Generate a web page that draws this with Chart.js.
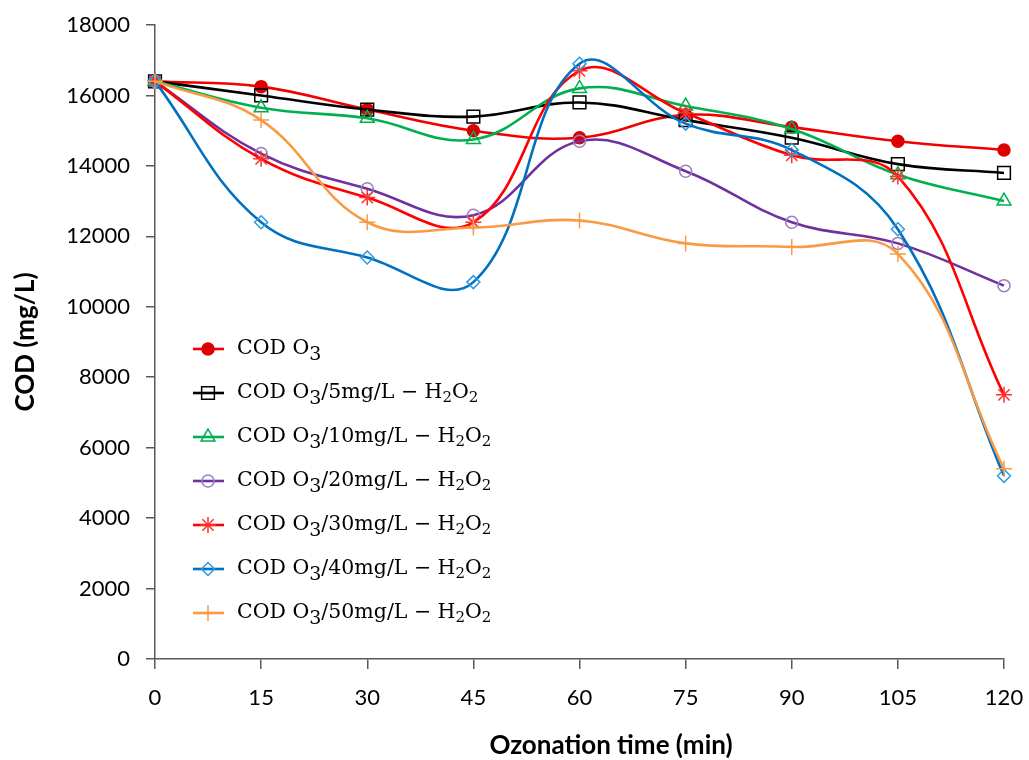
<!DOCTYPE html>
<html>
<head>
<meta charset="utf-8">
<script src="https://cdn.jsdelivr.net/npm/chart.js@4/dist/chart.umd.min.js"></script>
<style>
    html, body { margin: 0; padding: 0; background: #fff; }
    #wrap { width: 1029px; height: 760px; }
</style>
</head>
<body>
<div id="wrap"><canvas id="codChart" width="1029" height="760"></canvas></div>
<script>
// Ozonation time (min)
const times = [0, 15, 30, 45, 60, 75, 90, 105, 120];

// COD (mg/L) for each treatment
const codO3    = [16400, 16250, 15600, 15000, 14800, 15450, 15100, 14700, 14450];
const codH2O2_5  = [16400, 16000, 15600, 15400, 15800, 15300, 14800, 14050, 13800];
const codH2O2_10 = [16400, 15650, 15350, 14750, 16200, 15700, 15050, 13750, 13000];
const codH2O2_20 = [16400, 14350, 13350, 12600, 14700, 13850, 12400, 11800, 10600];
const codH2O2_30 = [16400, 14200, 13100, 12400, 16700, 15500, 14300, 13700, 7500];
const codH2O2_40 = [16400, 12400, 11400, 10700, 16900, 15200, 14450, 12200, 5200];
const codH2O2_50 = [16400, 15300, 12400, 12250, 12450, 11800, 11700, 11500, 5400];

const seriesLabels = [
    'COD O₃',
    'COD O₃/5mg/L − H₂O₂',
    'COD O₃/10mg/L − H₂O₂',
    'COD O₃/20mg/L − H₂O₂',
    'COD O₃/30mg/L − H₂O₂',
    'COD O₃/40mg/L − H₂O₂',
    'COD O₃/50mg/L − H₂O₂'
];
const seriesValues = [codO3, codH2O2_5, codH2O2_10, codH2O2_20, codH2O2_30, codH2O2_40, codH2O2_50];

const xTitle = 'Ozonation time (min)';
const yTitle = 'COD (mg/L)';

// line colour, marker colour, marker shape, marker radius, filled?
const styles = [
    { line: '#f20000', mark: '#dc0000', shape: 'circle',   r: 6,   fill: true },
    { line: '#000000', mark: '#000000', shape: 'rect',     r: 9,   fill: false },
    { line: '#00b050', mark: '#00b050', shape: 'triangle', r: 8,   fill: false },
    { line: '#7030a0', mark: '#9a80bd', shape: 'circle',   r: 6,   fill: false },
    { line: '#ff0000', mark: '#ff3030', shape: 'star',     r: 8,   fill: false },
    { line: '#0070c0', mark: '#2b9be0', shape: 'rectRot',  r: 6.5, fill: false },
    { line: '#f99a45', mark: '#f99a45', shape: 'cross',    r: 8,   fill: false }
];

const datasets = seriesValues.map((vals, i) => ({
    label: seriesLabels[i],
    data: vals.map((v, k) => ({ x: times[k], y: v })),
    borderColor: styles[i].line,
    borderWidth: 2.6,
    tension: 0.4,
    pointStyle: styles[i].shape,
    pointRadius: styles[i].r,
    pointBorderColor: styles[i].mark,
    pointBackgroundColor: styles[i].fill ? styles[i].mark : 'rgba(0,0,0,0)',
    pointBorderWidth: 1.5,
    clip: false,
    order: -i   // later series drawn on top, like the original
}));

// Legend drawn inside the plot, with subscripts set lower and smaller
const subMap = { '₂': '2', '₃': '3' };
const insideLegend = {
    id: 'insideLegend',
    afterDraw(chart) {
        const ctx = chart.ctx;
        const baseSize = 20.5;
        ctx.save();
        chart.data.datasets.forEach((ds, i) => {
            const y = 349 + i * 44;
            ctx.strokeStyle = ds.borderColor;
            ctx.lineWidth = 2.6;
            ctx.beginPath();
            ctx.moveTo(193, y);
            ctx.lineTo(224, y);
            ctx.stroke();

            if (Chart.helpers && Chart.helpers.drawPoint) {
                ctx.strokeStyle = ds.pointBorderColor;
                ctx.fillStyle = ds.pointBackgroundColor;
                ctx.lineWidth = 1.5;
                Chart.helpers.drawPoint(ctx, {
                    pointStyle: ds.pointStyle,
                    radius: ds.pointRadius,
                    rotation: 0,
                    borderWidth: 1.5
                }, 208, y);
            }

            // text with subscripts
            let x = 237;
            ctx.fillStyle = '#000';
            ctx.textBaseline = 'middle';
            ctx.textAlign = 'left';
            for (const ch of ds.label) {
                if (subMap[ch]) {
                    const big = subMap[ch] === '3';
                    ctx.font = (big ? 19 : 15) + 'px "DejaVu Serif"';
                    ctx.fillText(subMap[ch], x, y + (big ? 6 : 5));
                    x += ctx.measureText(subMap[ch]).width;
                } else {
                    ctx.font = baseSize + 'px "DejaVu Serif"';
                    ctx.fillText(ch, x, y);
                    x += ctx.measureText(ch).width;
                }
            }
        });

        // x axis title sits a little right of centre in the original
        ctx.font = 'bold 26px Lato';
        ctx.textAlign = 'center';
        ctx.textBaseline = 'middle';
        ctx.fillText(xTitle, 611, 746);
        ctx.restore();
    }
};

const axisGrey = '#595959';
const tickFont = { family: 'Lato', size: 22 };
const plainNum = (v) => String(v);

new Chart(document.getElementById('codChart').getContext('2d'), {
    type: 'line',
    data: { datasets: datasets },
    options: {
        responsive: false,
        animation: false,
        layout: { padding: { left: 0, right: 25, top: 25, bottom: 0 } },
        scales: {
            x: {
                type: 'linear',
                min: 0,
                max: 120,
                ticks: { stepSize: 15, color: '#000', font: tickFont, padding: 16, maxRotation: 0, callback: plainNum },
                grid: { drawOnChartArea: false, drawTicks: true, tickLength: 10, color: axisGrey, lineWidth: 1.5 },
                border: { color: axisGrey, width: 1.5 },
                afterFit: (scale) => {
                    scale.height = 101;
                    scale.paddingLeft = 0;
                    scale.paddingRight = 0;
                }
            },
            y: {
                min: 0,
                max: 18000,
                ticks: { stepSize: 2000, color: '#000', font: tickFont, padding: 16, callback: plainNum },
                grid: { drawOnChartArea: false, drawTicks: true, tickLength: 9, color: axisGrey, lineWidth: 1.5 },
                border: { color: axisGrey, width: 1.5 },
                title: {
                    display: true,
                    text: yTitle,
                    color: '#000',
                    font: { family: 'Lato', size: 26, weight: 'bold' },
                    padding: { top: 10, bottom: 0 }
                },
                afterFit: (scale) => {
                    scale.width = 155;
                    scale.paddingTop = 0;
                    scale.paddingBottom = 0;
                }
            }
        },
        plugins: {
            legend: { display: false },
            tooltip: { enabled: false }
        }
    },
    plugins: [insideLegend]
});
</script>
</body>
</html>
